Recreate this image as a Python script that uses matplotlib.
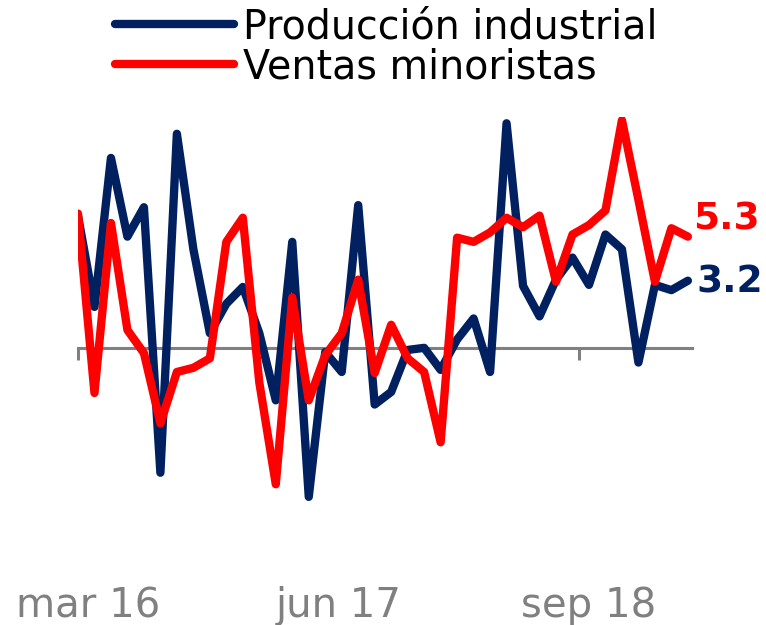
import matplotlib
matplotlib.use("Agg")
import matplotlib.pyplot as plt

# Monthly series, mar 16 .. apr 19 (% y/y)
produccion = [6.3, 1.95, 9.05, 5.3, 6.7, -5.95, 10.2, 4.7, 0.7, 2.1,
              2.9, 0.7, -2.5, 5.05, -7.1, -0.2, -1.15, 6.8, -2.7, -2.1,
              -0.1, 0.0, -1.05, 0.4, 1.4, -1.15, 10.7, 2.95, 1.5, 3.25,
              4.3, 3.0, 5.4, 4.7, -0.7, 3.0, 2.75, 3.2]
ventas = [6.4, -2.15, 5.95, 0.85, -0.25, -3.6, -1.15, -0.95, -0.5, 5.05,
          6.2, -1.65, -6.5, 2.4, -2.5, -0.35, 0.7, 3.25, -1.2, 1.1,
          -0.5, -1.15, -4.5, 5.25, 5.05, 5.5, 6.2, 5.75, 6.3, 3.15,
          5.4, 5.85, 6.55, 10.85, 7.05, 3.15, 5.7, 5.3]
tick_pos = [0, 15.2, 30.4]
label_pos = [0.6, 15.8, 31.0]
tick_labels = ["mar 16", "jun 17", "sep 18"]

NAVY = "#002060"
RED = "#ff0000"
GRAY = "#808080"

plt.rcParams["font.family"] = ["DejaVu Sans"]

fig = plt.figure(figsize=(7.66, 6.25), dpi=100)
ax = fig.add_axes([0.1018, 0.064, 0.8016, 0.7488])

x = list(range(len(produccion)))
ax.plot(x, produccion, color=NAVY, lw=6, zorder=3, solid_joinstyle="round",
        solid_capstyle="round", label="Producción industrial")
ax.plot(x, ventas, color=RED, lw=6, zorder=4, solid_joinstyle="round",
        solid_capstyle="round", label="Ventas minoristas")

ax.set_xlim(0, 37.25)
ax.set_ylim(-11.3, 11)

for s in ["top", "right", "left"]:
    ax.spines[s].set_visible(False)
ax.spines["bottom"].set_position("zero")
ax.spines["bottom"].set_color(GRAY)
ax.spines["bottom"].set_linewidth(2.2)
ax.set_yticks([])
ax.set_xticks(tick_pos)
ax.tick_params(axis="x", direction="out", length=8.6, width=2.2,
               color=GRAY, labelbottom=False)

# labels sit at the bottom of the plot area
sec = ax.secondary_xaxis("bottom")
sec.set_xticks(label_pos, tick_labels)
sec.spines["bottom"].set_visible(False)
sec.tick_params(length=0, pad=1, labelsize=29, labelcolor=GRAY)

# end-point labels
ax.annotate(f"{ventas[-1]:.1f}", xy=(x[-1], ventas[-1]), xytext=(3.6, 12.5),
            textcoords="offset points", ha="left", va="center",
            fontsize=27, fontweight="bold", color=RED, annotation_clip=False)
ax.annotate(f"{produccion[-1]:.1f}", xy=(x[-1], produccion[-1]), xytext=(6.5, -1),
            textcoords="offset points", ha="left", va="center",
            fontsize=27, fontweight="bold", color=NAVY, annotation_clip=False)

leg = fig.legend(loc="upper left", bbox_to_anchor=(0.124, 1.02), frameon=False,
                 fontsize=28.5, handlelength=3.0, handletextpad=0.25,
                 labelspacing=0.0, borderpad=0.0)
for h in leg.get_lines():
    h.set_solid_capstyle("round")

fig.savefig("out.png", dpi=100)
